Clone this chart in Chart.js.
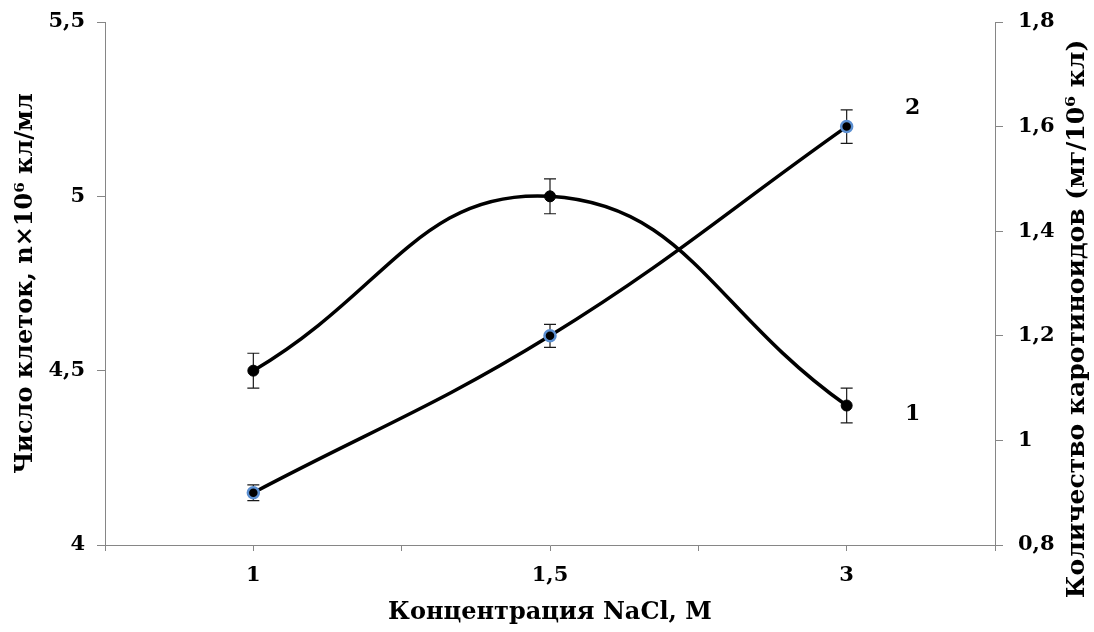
<!DOCTYPE html>
<html><head><meta charset="utf-8">
<script src="https://cdn.jsdelivr.net/npm/chart.js@4/dist/chart.umd.min.js"></script>
<style>html,body{margin:0;padding:0;background:#fff}canvas{display:block}</style>
</head><body>
<canvas id="c" width="1094" height="632"></canvas>
<script>
// ---- data ----
const categories = ['1', '1,5', '3'];
const cellCount = [4.5, 5.0, 4.4];
const cellCountErr = [0.05, 0.05, 0.05];
const carotenoids = [0.9, 1.2, 1.6];
const carotenoidsErr = [0.015, 0.022, 0.032];
const leftTicks = [4, 4.5, 5, 5.5];
const rightTicks = [0.8, 1, 1.2, 1.4, 1.6, 1.8];
const xTicks = [-0.5, 0, 0.5, 1, 1.5, 2, 2.5];
const seriesLabels = ['1', '2'];
const xTitle = 'Концентрация NaCl, М';
const leftTitle = 'Число клеток, n×10⁶ кл/мл';
const rightTitle = 'Количество каротиноидов (мг/10⁶ кл)';

const FONT = '"DejaVu Serif", "Liberation Serif", serif';
const AXIS = '#868686';
const fmt = v => String(Math.round(v * 10) / 10).replace('.', ',');
const noPad = s => { s.paddingTop = 0; s.paddingBottom = 0; s.paddingLeft = 0; s.paddingRight = 0; };

const errorBars = {
  id: 'errorBars',
  beforeDatasetsDraw(chart) {
    const ctx = chart.ctx;
    const xs = chart.scales.x;
    ctx.save();
    ctx.strokeStyle = '#1a1a1a';
    ctx.lineWidth = 1.2;
    chart.data.datasets.forEach(ds => {
      const ys = chart.scales[ds.yAxisID];
      ds.data.forEach((p, i) => {
        const e = ds.errors[i];
        const px = xs.getPixelForValue(p.x);
        const top = ys.getPixelForValue(p.y + e);
        const bot = ys.getPixelForValue(p.y - e);
        ctx.beginPath();
        ctx.moveTo(px, top); ctx.lineTo(px, bot);
        ctx.moveTo(px - 6, top); ctx.lineTo(px + 6, top);
        ctx.moveTo(px - 6, bot); ctx.lineTo(px + 6, bot);
        ctx.stroke();
      });
    });
    ctx.restore();
  },
  afterDraw(chart) {
    const ctx = chart.ctx;
    const xs = chart.scales.x;
    ctx.save();
    ctx.fillStyle = '#000';
    ctx.font = 'bold 22px ' + FONT;
    ctx.textAlign = 'center';
    ctx.textBaseline = 'middle';
    const last = categories.length - 1;
    const lx = xs.getPixelForValue(last) + 66;
    ctx.fillText(seriesLabels[0], lx, chart.scales.y.getPixelForValue(cellCount[last]) + 9);
    ctx.fillText(seriesLabels[1], lx, chart.scales.y2.getPixelForValue(carotenoids[last]) - 18);
    // right axis title (reads bottom-to-top)
    ctx.font = 'bold 25px ' + FONT;
    ctx.translate(1077, 319);
    ctx.rotate(-Math.PI / 2);
    ctx.fillText(rightTitle, 0, 0);
    ctx.restore();
  }
};

new Chart(document.getElementById('c'), {
  type: 'line',
  data: {
    datasets: [
      {
        label: seriesLabels[0],
        data: cellCount.map((v, i) => ({ x: i, y: v })),
        errors: cellCountErr,
        yAxisID: 'y',
        borderColor: '#000',
        borderWidth: 3.5,
        tension: 0.45,
        pointRadius: 5.5,
        pointBackgroundColor: '#000',
        pointBorderColor: '#000',
        pointBorderWidth: 1
      },
      {
        label: seriesLabels[1],
        data: carotenoids.map((v, i) => ({ x: i, y: v })),
        errors: carotenoidsErr,
        yAxisID: 'y2',
        borderColor: '#000',
        borderWidth: 3.5,
        tension: 0.4,
        pointRadius: 5.5,
        pointBackgroundColor: '#000',
        pointBorderColor: '#5b8fd1',
        pointBorderWidth: 2.5
      }
    ]
  },
  options: {
    responsive: false,
    devicePixelRatio: 1,
    animation: false,
    layout: { padding: { top: 22, left: 0, right: 0, bottom: 0 } },
    plugins: { legend: { display: false }, tooltip: { enabled: false } },
    scales: {
      x: {
        type: 'linear',
        min: -0.5, max: 2.5,
        afterBuildTicks: s => { s.ticks = xTicks.map(v => ({ value: v })); },
        afterFit: s => { s.height = 87; noPad(s); },
        grid: { drawOnChartArea: false, color: AXIS, tickLength: 6 },
        border: { color: AXIS, width: 1 },
        ticks: {
          autoSkip: false, maxRotation: 0, padding: 12, color: '#000',
          font: { family: FONT, size: 21, weight: 'bold' },
          callback: v => (Number.isInteger(v) && categories[v] !== undefined) ? categories[v] : ''
        },
        title: {
          display: true, text: xTitle, color: '#000',
          font: { family: FONT, size: 24, weight: 'bold' },
          padding: { top: 0, bottom: 5 }
        }
      },
      y: {
        position: 'left',
        min: 4, max: 5.5,
        afterBuildTicks: s => { s.ticks = leftTicks.map(v => ({ value: v })); },
        afterFit: s => { s.width = 105; noPad(s); },
        grid: { drawOnChartArea: false, color: AXIS, tickLength: 8 },
        border: { color: AXIS, width: 1 },
        ticks: {
          padding: 12, color: '#000',
          font: { family: FONT, size: 21, weight: 'bold' },
          callback: v => fmt(v)
        },
        title: {
          display: true, text: leftTitle, color: '#000',
          font: { family: FONT, size: 24, weight: 'bold' },
          padding: { top: 11, bottom: 0 }
        }
      },
      y2: {
        position: 'right',
        min: 0.8, max: 1.8,
        afterBuildTicks: s => { s.ticks = rightTicks.map(v => ({ value: v })); },
        afterFit: s => { s.width = 99; noPad(s); },
        grid: { drawOnChartArea: false, color: AXIS, tickLength: 8 },
        border: { color: AXIS, width: 1 },
        ticks: {
          padding: 15, color: '#000',
          font: { family: FONT, size: 21, weight: 'bold' },
          callback: v => fmt(v)
        }
      }
    }
  },
  plugins: [errorBars]
});
</script>
</body></html>
